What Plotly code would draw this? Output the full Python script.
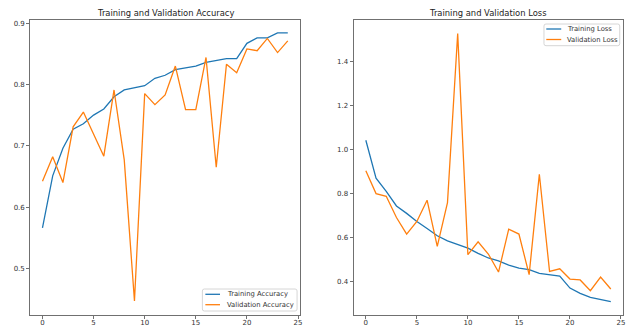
import plotly.graph_objects as go

epochs = list(range(25))
train_acc = [0.566, 0.651, 0.696, 0.727, 0.736, 0.750, 0.760, 0.780, 0.791, 0.795,
             0.798, 0.810, 0.815, 0.824, 0.827, 0.830, 0.836, 0.839, 0.842, 0.842,
             0.867, 0.876, 0.876, 0.884, 0.884]
val_acc = [0.642, 0.682, 0.640, 0.731, 0.755, 0.720, 0.683, 0.791, 0.677, 0.447,
           0.785, 0.767, 0.783, 0.830, 0.759, 0.759, 0.844, 0.665, 0.833, 0.819,
           0.858, 0.855, 0.875, 0.852, 0.871]
train_loss = [1.041, 0.868, 0.808, 0.742, 0.708, 0.671, 0.639, 0.606, 0.583, 0.565,
              0.550, 0.526, 0.505, 0.492, 0.473, 0.459, 0.452, 0.435, 0.430, 0.423,
              0.368, 0.344, 0.326, 0.315, 0.306]
val_loss = [0.902, 0.798, 0.786, 0.689, 0.614, 0.671, 0.768, 0.558, 0.757, 1.527,
            0.520, 0.579, 0.523, 0.441, 0.636, 0.614, 0.429, 0.886, 0.444, 0.456,
            0.409, 0.405, 0.356, 0.418, 0.364]

acc_ticks = [0.5, 0.6, 0.7, 0.8, 0.9]
loss_ticks = [0.4, 0.6, 0.8, 1.0, 1.2, 1.4]
x_ticks = [0, 5, 10, 15, 20, 25]

acc_labels = ["Training Accuracy", "Validation Accuracy"]
loss_labels = ["Training Loss", "Validation Loss"]
titles = ["Training and Validation Accuracy", "Training and Validation Loss"]

BLUE = "#1f77b4"
ORANGE = "#ff7f0e"
FONT = "DejaVu Sans"
W, H = 636, 328
LW = 1.3

fig = go.Figure()
fig.add_trace(go.Scatter(x=epochs, y=train_acc, mode="lines", name=acc_labels[0],
                         line=dict(color=BLUE, width=LW), xaxis="x", yaxis="y"))
fig.add_trace(go.Scatter(x=epochs, y=val_acc, mode="lines", name=acc_labels[1],
                         line=dict(color=ORANGE, width=LW), xaxis="x", yaxis="y"))
fig.add_trace(go.Scatter(x=epochs, y=train_loss, mode="lines", name=loss_labels[0],
                         line=dict(color=BLUE, width=LW), xaxis="x2", yaxis="y2"))
fig.add_trace(go.Scatter(x=epochs, y=val_loss, mode="lines", name=loss_labels[1],
                         line=dict(color=ORANGE, width=LW), xaxis="x2", yaxis="y2"))

axis_common = dict(showgrid=False, zeroline=False, showline=True, mirror=True,
                   linecolor="#707070", linewidth=1, ticks="outside", ticklen=3,
                   tickcolor="#707070", tickwidth=1,
                   tickfont=dict(family=FONT, size=7, color="#333333"))

yd = [(H - 315) / H, (H - 19.5) / H]

def px(x):
    return x / W

def py(y):
    return (H - y) / H

shapes = []
annotations = []

def add_legend(box, line_x0, line_x1, text_x, rows, labels, colors):
    x0, x1, y0, y1 = box
    r = 2
    path = (f"M {px(x0 + r)},{py(y0)} L {px(x1 - r)},{py(y0)} "
            f"Q {px(x1)},{py(y0)} {px(x1)},{py(y0 + r)} L {px(x1)},{py(y1 - r)} "
            f"Q {px(x1)},{py(y1)} {px(x1 - r)},{py(y1)} L {px(x0 + r)},{py(y1)} "
            f"Q {px(x0)},{py(y1)} {px(x0)},{py(y1 - r)} L {px(x0)},{py(y0 + r)} "
            f"Q {px(x0)},{py(y0)} {px(x0 + r)},{py(y0)} Z")
    shapes.append(dict(type="path", xref="paper", yref="paper", path=path,
                       fillcolor="rgba(255,255,255,0.8)",
                       line=dict(color="#d6d6d6", width=1), layer="above"))
    for ry, lab, col in zip(rows, labels, colors):
        shapes.append(dict(type="line", xref="paper", yref="paper",
                           x0=px(line_x0), x1=px(line_x1), y0=py(ry), y1=py(ry),
                           line=dict(color=col, width=LW), layer="above"))
        annotations.append(dict(text=lab, x=px(text_x), y=py(ry), xref="paper", yref="paper",
                                xanchor="left", yanchor="middle", showarrow=False,
                                font=dict(family=FONT, size=6.8, color="#333333")))

add_legend((203, 298, 289, 311), 206, 220.7, 225.5, (294.3, 304.7), acc_labels, [BLUE, ORANGE])
add_legend((545.7, 621.7, 24, 45.7), 548, 563, 567, (29, 39.5), loss_labels, [BLUE, ORANGE])

for t, (a, b) in zip(titles, [(30.3, 301), (354.7, 625)]):
    annotations.append(dict(text=t, x=px((a + b) / 2), y=py(13), xref="paper", yref="paper",
                            xanchor="center", yanchor="middle", showarrow=False,
                            font=dict(family=FONT, size=8.4, color="#222222")))

fig.update_layout(
    width=W, height=H,
    margin=dict(l=0, r=0, t=0, b=0),
    paper_bgcolor="white", plot_bgcolor="white",
    showlegend=False,
    font=dict(family=FONT, color="#333333"),
    xaxis=dict(domain=[px(30.3), px(301)], range=[-1.2, 25.2], tickvals=x_ticks,
               anchor="y", ticklabelstandoff=-2, **axis_common),
    yaxis=dict(domain=yd, range=[0.4241, 0.9059], tickvals=acc_ticks,
               tickformat=".1f", anchor="x", **axis_common),
    xaxis2=dict(domain=[px(354.7), px(625)], range=[-1.2, 25.2], tickvals=x_ticks,
                anchor="y2", ticklabelstandoff=-2, **axis_common),
    yaxis2=dict(domain=yd, range=[0.2455, 1.5905], tickvals=loss_ticks,
                tickformat=".1f", anchor="x2", **axis_common),
    shapes=shapes,
    annotations=annotations,
)

fig.write_html("out.html", config={"displayModeBar": False})

# remove the browser's default body margin so the figure fills the window exactly
with open("out.html", "r", encoding="utf-8") as f:
    html = f.read()
html = html.replace("<head>", "<head><style>html,body{margin:0;padding:0;overflow:hidden;}</style>", 1)
with open("out.html", "w", encoding="utf-8") as f:
    f.write(html)
